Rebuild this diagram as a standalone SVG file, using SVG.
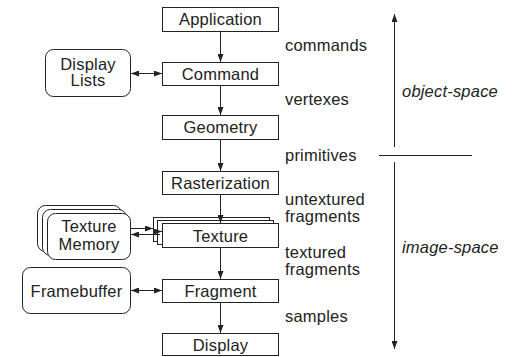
<svg xmlns="http://www.w3.org/2000/svg" width="512" height="357" viewBox="0 0 512 357">
<defs>
<marker id="ah" viewBox="0 0 8 6" refX="8" refY="3" markerWidth="8" markerHeight="6" orient="auto-start-reverse" markerUnits="userSpaceOnUse">
<path d="M0,0 L8,3 L0,6 z" fill="#222"/>
</marker>
<style>
.box{fill:#fff;stroke:#222;stroke-width:1}
.t{font-family:"Liberation Sans",Arial,sans-serif;font-size:16.5px;letter-spacing:0.2px;fill:#222}
.c{text-anchor:middle}
.i{font-style:italic}
.ln{stroke:#222;stroke-width:1;fill:none}
</style>
</defs>
<rect width="512" height="357" fill="#fff"/>
<g id="application"><rect class="box" x="162.5" y="7.5" width="116" height="24"/><text class="t c" x="220.5" y="24.5">Application</text></g>
<g id="command"><rect class="box" x="162.5" y="62.5" width="116" height="23"/><text class="t c" x="220.5" y="79.5">Command</text></g>
<g id="geometry"><rect class="box" x="162.5" y="115.5" width="116" height="24"/><text class="t c" x="220.5" y="132.5">Geometry</text></g>
<g id="rasterization"><rect class="box" x="162.5" y="171.5" width="116" height="23"/><text class="t c" x="220.5" y="188.5">Rasterization</text></g>
<g id="texture"><rect class="box" x="153.5" y="217.5" width="116" height="24"/><rect class="box" x="157.5" y="220.5" width="116" height="24"/><rect class="box" x="162.5" y="223.5" width="116" height="24"/><text class="t c" x="220.5" y="241.5">Texture</text></g>
<g id="fragment"><rect class="box" x="162.5" y="279.5" width="116" height="23"/><text class="t c" x="220.5" y="296.5">Fragment</text></g>
<g id="display"><rect class="box" x="162.5" y="333.5" width="116" height="22"/><text class="t c" x="220.5" y="350.5">Display</text></g>
<g id="display-lists"><rect class="box" x="45.5" y="49.5" width="85" height="47" rx="8"/><text class="t c" x="88" y="70">Display</text><text class="t c" x="88" y="86">Lists</text></g>
<g id="texture-memory"><rect class="box" x="37.5" y="205.5" width="84" height="46" rx="8"/><rect class="box" x="42.5" y="209.5" width="84" height="46" rx="8"/><rect class="box" x="47.5" y="213.5" width="83" height="46" rx="8"/><text class="t c" x="89" y="232">Texture</text><text class="t c" x="89" y="249.5">Memory</text></g>
<g id="framebuffer"><rect class="box" x="22.5" y="267.5" width="108" height="46" rx="8"/><text class="t c" x="76.5" y="296.5">Framebuffer</text></g>
<g id="connectors">
<line class="ln" x1="220.5" y1="32" x2="220.5" y2="62" marker-end="url(#ah)"/>
<line class="ln" x1="220.5" y1="86" x2="220.5" y2="115" marker-end="url(#ah)"/>
<line class="ln" x1="220.5" y1="140" x2="220.5" y2="171" marker-end="url(#ah)"/>
<line class="ln" x1="220.5" y1="195" x2="220.5" y2="223" marker-end="url(#ah)"/>
<line class="ln" x1="220.5" y1="248" x2="220.5" y2="279" marker-end="url(#ah)"/>
<line class="ln" x1="220.5" y1="303" x2="220.5" y2="333" marker-end="url(#ah)"/>
<line class="ln" x1="131" y1="73.5" x2="162" y2="73.5" marker-start="url(#ah)" marker-end="url(#ah)"/>
<line class="ln" x1="131" y1="290.5" x2="162" y2="290.5" marker-start="url(#ah)" marker-end="url(#ah)"/>
<line class="ln" x1="131" y1="228.5" x2="153" y2="228.5" marker-end="url(#ah)"/>
<line class="ln" x1="153" y1="231.5" x2="162" y2="231.5" marker-end="url(#ah)"/>
<line class="ln" x1="160" y1="234.5" x2="131" y2="234.5" marker-end="url(#ah)"/>
<line class="ln" x1="394.5" y1="147" x2="394.5" y2="14" marker-end="url(#ah)"/>
<line class="ln" x1="394.5" y1="162" x2="394.5" y2="349" marker-end="url(#ah)"/>
<line class="ln" x1="379" y1="155.5" x2="472" y2="155.5"/>
</g>
<g id="labels">
<text class="t" x="285" y="50.5">commands</text>
<text class="t" x="285" y="105">vertexes</text>
<text class="t" x="285" y="160.5">primitives</text>
<text class="t" x="285" y="205">untextured</text>
<text class="t" x="285" y="221.5">fragments</text>
<text class="t" x="285" y="258">textured</text>
<text class="t" x="285" y="274.5">fragments</text>
<text class="t" x="285" y="322">samples</text>
<text class="t i" x="402" y="97">object-space</text>
<text class="t i" x="402" y="253">image-space</text>
</g>
</svg>
